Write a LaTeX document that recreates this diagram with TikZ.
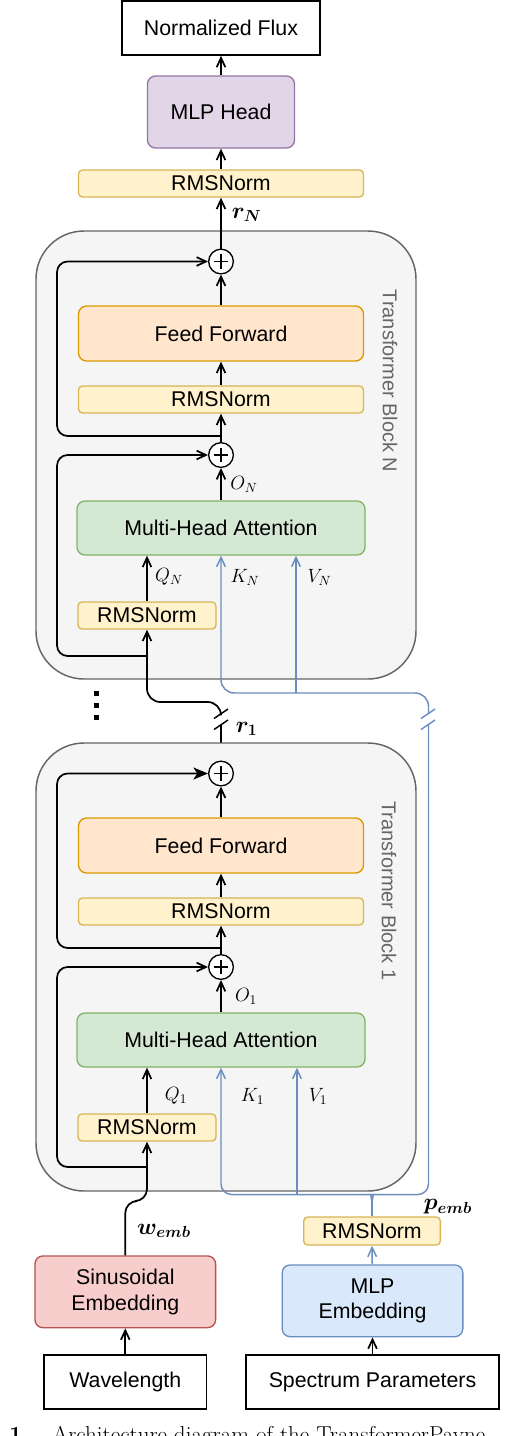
\documentclass[tikz,border=0pt]{standalone}
\usepackage{amsmath}
\usepackage{bm}
\usepackage{fontspec}
\newfontfamily\figsans{Liberation Sans}
\usetikzlibrary{arrows.meta}
\pgfdeclarelayer{background}
\pgfsetlayers{background,main}
\definecolor{headfill}{HTML}{E1D5E7}
\definecolor{headline}{HTML}{9673A6}
\definecolor{normfill}{HTML}{FFF2CC}
\definecolor{normline}{HTML}{D6B656}
\definecolor{fffill}{HTML}{FFE6CC}
\definecolor{ffline}{HTML}{D79B00}
\definecolor{attfill}{HTML}{D5E8D4}
\definecolor{attline}{HTML}{82B366}
\definecolor{sinfill}{HTML}{F8CECC}
\definecolor{sinline}{HTML}{B85450}
\definecolor{mlpfill}{HTML}{DAE8FC}
\definecolor{kvblue}{HTML}{6C8EBF}
\definecolor{blockfill}{HTML}{F5F5F5}
\definecolor{blockline}{HTML}{666666}
\begin{document}
\begin{tikzpicture}[x=0.75pt,y=0.75pt,yscale=-1,xscale=1,
    sans/.style={font=\figsans\fontsize{16}{19}\selectfont},
    iobox/.style={sans, draw, line width=1.2pt, fill=white, inner sep=0pt},
    layerbox/.style={sans, draw, line width=1pt, rounded corners=6pt, inner sep=0pt, align=center},
    normbox/.style={layerbox, rounded corners=3pt, fill=normfill, draw=normline, minimum height=20.25pt},
    addop/.style={circle, draw, fill=white, line width=1pt, minimum size=18.5pt, inner sep=0pt,
        path picture={\draw[line width=1pt] ([xshift=-5.6pt]path picture bounding box.center) -- ([xshift=5.6pt]path picture bounding box.center)
            ([yshift=-5.6pt]path picture bounding box.center) -- ([yshift=5.6pt]path picture bounding box.center);}},
    blockbg/.style={fill=blockfill, draw=blockline, line width=1.1pt, rounded corners=36pt},
    blocklbl/.style={font=\figsans\fontsize{15}{18}\selectfont, text=blockline, rotate=-90, inner sep=0pt},
    link/.style={line width=1.3pt, -{Straight Barb[length=7pt,width=6.5pt]}},
    kvline/.style={line width=1.1pt, draw=kvblue},
    kvlink/.style={kvline, -{Straight Barb[length=7pt,width=6.5pt]}},
    mathlbl/.style={inner sep=0pt, font=\fontsize{14.4}{17}\selectfont},
    boldlbl/.style={inner sep=0pt, font=\fontsize{17.28}{20}\selectfont}]
    \useasboundingbox (0,0) rectangle (508,1436);
    % transformer blocks
    \draw[blockbg] (36,231) rectangle (416,679);
    \draw[blockbg] (36,743) rectangle (416,1191);
    \node[blocklbl] (lblN) at (390,381) {Transformer Block N};
    \node[blocklbl] (lbl1) at (389,891) {Transformer Block 1};
    % output side
    \node[iobox, minimum width=148.5pt, minimum height=40.5pt] (flux) at (221,28) {Normalized Flux};
    \node[layerbox, fill=headfill, draw=headline, minimum width=110.25pt, minimum height=54pt] (head) at (221,112) {MLP Head};
    \node[normbox, minimum width=213.75pt] (rmsTop) at (221,183.5) {RMSNorm};
    % block N
    \node[addop] (plusN2) at (221,261.5) {};
    \node[layerbox, fill=fffill, draw=ffline, minimum width=213.75pt, minimum height=41.25pt] (ffN) at (221,333.5) {Feed Forward};
    \node[normbox, minimum width=213.75pt] (rmsN) at (221,399.5) {RMSNorm};
    \node[addop] (plusN1) at (221,455) {};
    \node[layerbox, fill=attfill, draw=attline, minimum width=216pt, minimum height=40.5pt] (mhaN) at (221,528) {Multi-Head Attention};
    \node[normbox, minimum width=103.5pt] (rmsqN) at (147,615.5) {RMSNorm};
    % block 1
    \node[addop] (plus12) at (221,773.5) {};
    \node[layerbox, fill=fffill, draw=ffline, minimum width=213.75pt, minimum height=41.25pt] (ff1) at (221,845.5) {Feed Forward};
    \node[normbox, minimum width=213.75pt] (rms1) at (221,911.5) {RMSNorm};
    \node[addop] (plus11) at (221,967) {};
    \node[layerbox, fill=attfill, draw=attline, minimum width=216pt, minimum height=40.5pt] (mha1) at (221,1040) {Multi-Head Attention};
    \node[normbox, minimum width=103.5pt] (rmsq1) at (147,1127.5) {RMSNorm};
    % inputs
    \node[layerbox, fill=sinfill, draw=sinline, minimum width=135.5pt, minimum height=53.8pt] (sin) at (125.3,1291.8) {Sinusoidal\\Embedding};
    \node[iobox, minimum width=122pt, minimum height=40.5pt] (wave) at (125.3,1382) {Wavelength};
    \node[layerbox, fill=mlpfill, draw=kvblue, minimum width=135.5pt, minimum height=53.8pt] (mlp) at (372.5,1300.8) {MLP\\Embedding};
    \node[iobox, minimum width=190pt, minimum height=40.5pt] (spec) at (372.5,1382) {Spectrum Parameters};
    \node[normbox, minimum width=102.5pt, minimum height=21pt] (rmsP) at (372,1231) {RMSNorm};
    % free ends
    \coordinate (sN2) at (221,436);
    \coordinate (sN1) at (147,656);
    \coordinate (s12) at (221,948);
    \coordinate (s11) at (147,1167);
    \coordinate (rbrkU) at (221,714);
    \coordinate (rbrkL) at (221,725);
    \coordinate (kvbrkU) at (428.5,714);
    \coordinate (kvbrkL) at (428.5,725);
    \coordinate (brc) at (372,1203);
    % main path
    \draw[link] (head) -- (flux);
    \draw[link] (rmsTop) -- (head);
    \draw[link] (plusN2) -- (rmsTop);
    \draw[link] (ffN) -- (plusN2);
    \draw[link] (rmsN) -- (ffN);
    \draw[link] (plusN1) -- (rmsN);
    \draw[link] (mhaN) -- (plusN1);
    \draw[link] (rmsqN) -- (rmsqN.north |- mhaN.south);
    \draw[link, rounded corners=8] (sN2) -- (57,436) -- (57,261.5) -- (plusN2.west);
    \draw[link, rounded corners=8] (sN1) -- (57,656) -- (57,455) -- (plusN1.west);
    \draw[link, rounded corners=10] (rbrkU) -- (221,702) -- (147,702) -- (rmsqN.south);
    \begin{pgfonlayer}{background}
        \draw[line width=1.3pt] (plus12.north) -- (rbrkL);
    \end{pgfonlayer}
    \draw[link] (ff1) -- (plus12);
    \draw[link] (rms1) -- (ff1);
    \draw[link] (plus11) -- (rms1);
    \draw[link] (mha1) -- (plus11);
    \draw[link] (rmsq1) -- (rmsq1.north |- mha1.south);
    \draw[line width=1.3pt, -{Stealth[length=11pt,width=9pt,inset=3pt]}, rounded corners=8] (s12) -- (57,948) -- (57,773.5) -- (plus12.west);
    \draw[link, rounded corners=8] (s11) -- (57,1167) -- (57,967) -- (plus11.west);
    \draw[link, rounded corners=9] (sin.north) -- (125.3,1201) -- (147,1201) -- (rmsq1.south);
    \draw[link] (wave) -- (sin);
    \draw[link] (spec) -- (mlp);
    % keys and values
    \draw[kvlink] (mlp) -- (rmsP);
    \draw[kvline] (rmsP.north) -- (brc);
    \draw[kvlink, rounded corners=8] (brc) .. controls (372,1197) and (369,1194.5) .. (362,1194.5) -- (221,1194.5) -- (mha1.south);
    \draw[kvline, rounded corners=8] (brc) .. controls (372,1197) and (375,1194.5) .. (382,1194.5) -- (428.5,1194.5) -- (kvbrkL);
    \draw[kvlink] (297,1194.5) -- (297,1194.5 |- mha1.south);
    \draw[kvlink, rounded corners=10] (kvbrkU) -- (428.5,693) -- (221,693) -- (mhaN.south);
    \draw[kvlink] (296,693) -- (296,693 |- mhaN.south);
    % breaks
    \draw[line width=1.1pt] (214,718.5) -- (228,709);
    \draw[line width=1.1pt] (214,729.5) -- (228,720);
    \draw[kvline] (421,718.5) -- (435,709);
    \draw[kvline] (421,729.5) -- (435,720);
    % more blocks
    \foreach \y in {693,705,717}
        \fill (94.2,\y-2.5) rectangle ++(5,5);
    % labels
    \node[boldlbl] (rN) at (246.7,215) {$\bm{r_N}$};
    \node[mathlbl] (oN) at (244,484) {$O_N$};
    \node[mathlbl] (qN) at (169,577) {$Q_N$};
    \node[mathlbl] (kN) at (245,577) {$K_N$};
    \node[mathlbl] (vN) at (319.5,577) {$V_N$};
    \node[boldlbl] (r1) at (246.7,729) {$\bm{r_1}$};
    \node[mathlbl] (o1) at (246,996) {$O_1$};
    \node[mathlbl] (q1) at (176,1096) {$Q_1$};
    \node[mathlbl] (k1) at (252.5,1096) {$K_1$};
    \node[mathlbl] (v1) at (318,1096) {$V_1$};
    \node[boldlbl] (wemb) at (164,1231) {$\bm{w_{emb}}$};
    \node[boldlbl] (pemb) at (448,1207) {$\bm{p_{emb}}$};
    % caption, cut by the page edge
    \node[anchor=base west, inner sep=0pt, font=\fontsize{17.28}{20}\selectfont] (caption) at (-43.5,1442) {\textbf{Fig.~1.}\quad Architecture diagram of the TransformerPayne};
\end{tikzpicture}
\end{document}
